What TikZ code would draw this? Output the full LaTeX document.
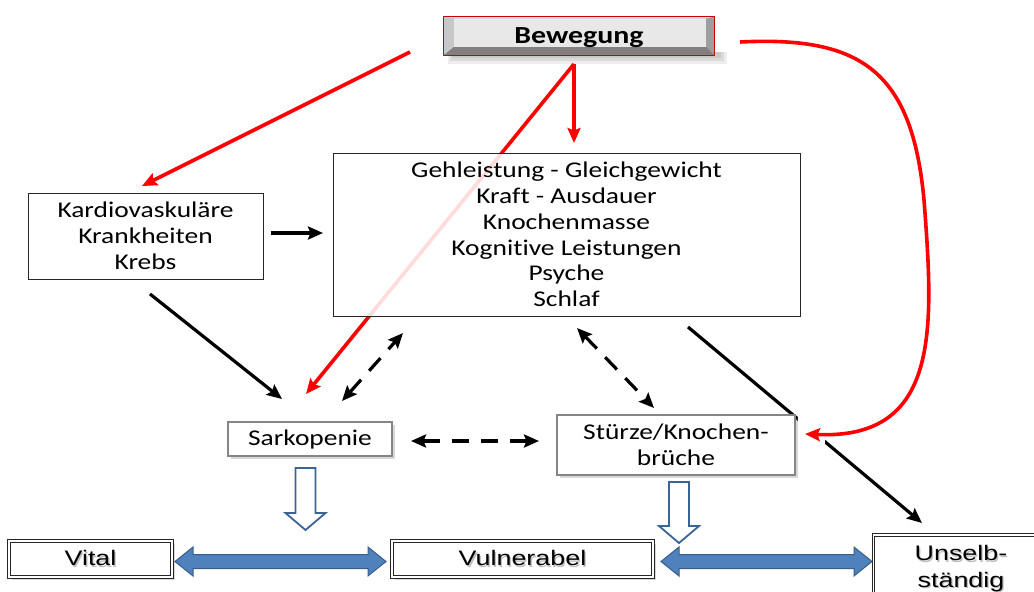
\documentclass[tikz,border=0pt]{standalone}
\usepackage{fontspec}
\usetikzlibrary{arrows.meta,shadows,calc}
\newfontfamily\calfont[FakeStretch=1.22,RawFeature={-liga}]{Carlito}
\newfontfamily\arlfont[FakeStretch=1.28]{Liberation Sans}
\newcommand\shtxt[1]{\makebox[0pt][l]{\hspace{1.3pt}\raisebox{-1.3pt}{\textcolor{black!25}{#1}}}#1}
\pgfdeclarelayer{bgzero}
\pgfdeclarelayer{bgone}
\pgfsetlayers{bgzero,bgone,main}
\definecolor{arrowblue}{HTML}{4F81BD}
\definecolor{arrowedge}{HTML}{385D8A}
\definecolor{hollowedge}{HTML}{3A6496}
\begin{document}
\begin{tikzpicture}[x=1pt,y=-1pt,
  font=\calfont\fontsize{22.5}{25.8}\selectfont,
  >={Stealth[length=15pt,width=13pt,inset=2.5pt]},
  plainbox/.style={draw=black!85, line width=0.9pt, fill=white, align=center, inner sep=0pt},
  shbox/.style={draw=black!48, line width=1.5pt, fill=white, align=center, inner sep=0pt,
    drop shadow={opacity=0.3, shadow xshift=3pt, shadow yshift=-3pt}},
  dblbox/.style={draw=black!85, double=white, double distance=1.8pt, line width=0.9pt, fill=white,
    align=center, inner sep=0pt, font=\arlfont\fontsize{21}{26.6}\selectfont,
    drop shadow={opacity=0.3, shadow xshift=2.5pt, shadow yshift=-2.5pt}},
  redarr/.style={draw=red, line width=3.6pt, ->},
  blkarr/.style={draw=black, line width=3.2pt, ->},
  dasharr/.style={draw=black, line width=3.2pt, dash pattern=on 17pt off 12pt, <->},
  bluearrow/.style={draw=arrowedge, fill=arrowblue, line width=1pt, line join=miter},
  hollowarrow/.style={draw=hollowedge, fill=white, line width=1.8pt, line join=miter}
]
\begin{pgfonlayer}{bgzero}
\fill[white] (0,0) rectangle (1034,592);
\end{pgfonlayer}
\useasboundingbox (0,0) rectangle (1034,592);

% free ends of connectors
\coordinate (r1s) at (410,52);  \coordinate (r1e) at (142,186);
\coordinate (r2s) at (574,64);  \coordinate (r2e) at (574,143);
\coordinate (r3e) at (306,394);
\coordinate (r4s) at (740,42);  \coordinate (r4e) at (805,434);
\coordinate (k1s) at (271,233); \coordinate (k1e) at (323,233);
\coordinate (k2s) at (150,294); \coordinate (k2e) at (282,399);
\coordinate (d1a) at (342,401); \coordinate (d1b) at (403,333);
\coordinate (d2a) at (577,328); \coordinate (d2b) at (654,408);
\coordinate (d3a) at (411,441); \coordinate (d3b) at (539,441);
\coordinate (m1s) at (688,327); \coordinate (m1e) at (922,523);

% red line behind main box
\draw[redarr] (r2s) -- (r3e);

\node[plainbox, fill opacity=0.86, text opacity=1, minimum width=467pt, minimum height=163pt] (main) at (566.5,234.5)
 {Gehleistung - Gleichgewicht\\Kraft - Ausdauer\\Knochenmasse\\Kognitive Leistungen\\Psyche\\Schlaf};
\node[plainbox, minimum width=235pt, minimum height=86pt] (kard) at (145.5,236)
 {Kardiovaskuläre\\Krankheiten\\Krebs};

% main -> Unselbständig (passes behind Stürze box)
\draw[blkarr] (m1s) -- (m1e);
\fill[white] (798,410) rectangle (825,447);

\node[shbox, minimum width=164pt, minimum height=34pt] (sark) at (310,439) {Sarkopenie};
\node[shbox, minimum width=238pt, minimum height=60pt] (stu) at (676,445) {Stürze/Knochen-\\brüche};

% other connectors
\draw[redarr] (r1s) -- (r1e);
\draw[redarr] (r2s) -- (r2e);
\draw[blkarr] (k1s) -- (k1e);
\draw[blkarr] (k2s) -- (k2e);
\draw[dasharr] (d1a) -- (d1b);
\draw[dasharr] (d2a) -- (d2b);
\draw[dasharr] (d3a) -- (d3b);

% Bewegung button
\node[inner sep=0pt, minimum width=270pt, minimum height=38pt, text height=18pt, text depth=4pt,
  font=\calfont\bfseries\fontsize{24.5}{26}\selectfont] (bew) at (579,36) {Bewegung};
\begin{pgfonlayer}{bgone}
\fill[black,opacity=0.07] ($(bew.south west)+(4,-3)$) rectangle ($(bew.south east)+(13,9)$);
\fill[black,opacity=0.08] ($(bew.south west)+(6,-3)$) rectangle ($(bew.south east)+(10,6)$);
\fill[black,opacity=0.08] ($(bew.south west)+(8,-3)$) rectangle ($(bew.south east)+(7,3)$);
\fill[black!40] (bew.south west) rectangle (bew.north east);
\fill[black!22] (bew.north west) -- ($(bew.north west)+(10,2)$) -- ($(bew.south west)+(10,-8)$) -- (bew.south west) -- cycle;
\fill[black!15] (bew.north west) -- (bew.north east) -- ($(bew.north east)+(-8,2)$) -- ($(bew.north west)+(10,2)$) -- cycle;
\fill[black!38] (bew.north east) -- (bew.south east) -- ($(bew.south east)+(-8,-8)$) -- ($(bew.north east)+(-8,2)$) -- cycle;
\fill[black!50] (bew.south west) -- (bew.south east) -- ($(bew.south east)+(-8,-8)$) -- ($(bew.south west)+(10,-8)$) -- cycle;
\fill[black!9] ($(bew.north west)+(10,2)$) rectangle ($(bew.south east)+(-8,-8)$);
\draw[red!80!black, line width=1pt] (bew.south west) rectangle (bew.north east);
\end{pgfonlayer}

% red curve Bewegung -> Stürze
\draw[redarr] (r4s) .. controls (860,36) and (912,70) .. (924,200)
              .. controls (934,330) and (940,440) .. (r4e);

% bottom row
\node[dblbox, minimum width=163pt, minimum height=36pt] (vital) at (90.5,559) {\shtxt{Vital}};
\node[dblbox, minimum width=261pt, minimum height=36pt] (vuln) at (522.5,559) {\shtxt{Vulnerabel}};
\node[dblbox, minimum width=175pt, minimum height=69pt] (unsel) at (961,569.5) {\shtxt{Unselb-}\\\shtxt{ständig}};

% block arrows
\draw[bluearrow] (175,561.5) -- (193,547) -- (193,554.5) -- (368,554.5) -- (368,547) -- (386,561.5)
  -- (368,576) -- (368,568.5) -- (193,568.5) -- (193,576) -- cycle;
\draw[bluearrow] (661,561.5) -- (679,547) -- (679,554.5) -- (854,554.5) -- (854,547) -- (872,561.5)
  -- (854,576) -- (854,568.5) -- (679,568.5) -- (679,576) -- cycle;
\draw[hollowarrow] (295.5,468) -- (315.5,468) -- (315.5,513) -- (325.5,513) -- (305.5,530)
  -- (285.5,513) -- (295.5,513) -- cycle;
\draw[hollowarrow] (669,482) -- (689,482) -- (689,526) -- (699,526) -- (679,543)
  -- (659,526) -- (669,526) -- cycle;
\end{tikzpicture}
\end{document}
